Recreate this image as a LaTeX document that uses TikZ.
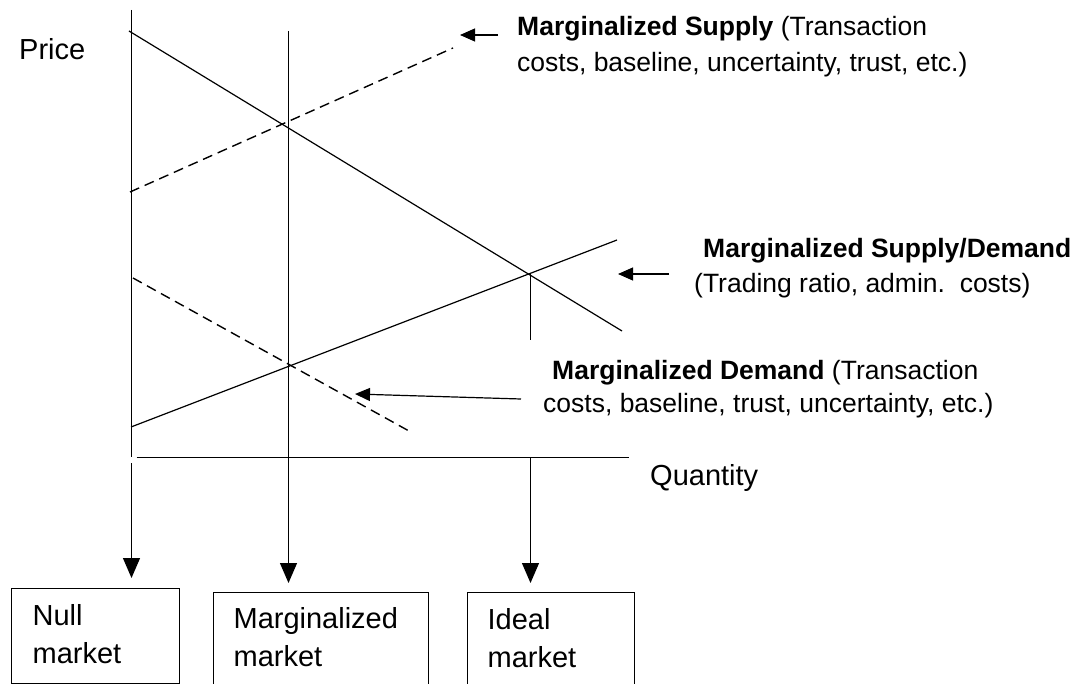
\documentclass[tikz,border=0pt]{standalone}
\usepackage{fontspec}
\setmainfont{Liberation Sans}
\usetikzlibrary{arrows.meta}
\begin{document}
\begin{tikzpicture}[x=1pt,y=-1pt,
  every node/.style={inner sep=0pt, font=\fontsize{26.5}{32}\selectfont},
  curve/.style={line width=1.2pt},
  dashcurve/.style={line width=1.4pt, dash pattern=on 10pt off 6pt},
  guide/.style={line width=1.2pt},
  bigarrow/.style={line width=1.2pt, -{Triangle[length=20pt,width=17pt]}},
  tagarrow/.style={line width=1.2pt, -{Triangle[length=15pt,width=13pt]}},
  txt/.style={anchor=base west},
  axistxt/.style={anchor=base west, font=\fontsize{29}{34}\selectfont},
  marketbox/.style={draw, line width=1.2pt, anchor=north west, align=left,
    inner xsep=20pt, inner ysep=16pt, font=\fontsize{29}{38}\selectfont}
]
\useasboundingbox (0,0) rectangle (1076,684);
\clip (0,0) rectangle (1076,684);

% axis labels
\node[axistxt] (price) at (19,60) {Price};
\node[axistxt] (qty) at (650,485) {Quantity};

% curve end points
\coordinate (dTop) at (129,31);     \coordinate (dEnd) at (622,331);   % demand
\coordinate (sLow) at (131,427);    \coordinate (sEnd) at (617,240);   % supply
\coordinate (msLow) at (130,192);   \coordinate (msEnd) at (453,48);   % marginalized supply
\coordinate (mdTop) at (133,278);   \coordinate (mdEnd) at (409,431);  % marginalized demand

% vertical guides and quantity axis
\coordinate (nullTop) at (131.5,10);
\coordinate (nullBreak) at (131.5,457);
\coordinate (nullStart) at (131.5,463);
\coordinate (margTop) at (288.5,31);
\coordinate (idealCross) at (530.5,273);
\coordinate (idealLow) at (530.5,340);
\coordinate (idealStart) at (530.5,457.5);
\coordinate (qStart) at (136.5,457.5);
\coordinate (qEnd) at (629,457.5);

\draw[guide] (nullTop) -- (nullBreak);
\draw[guide] (qStart) -- (qEnd);
\draw[guide] (idealCross) -- (idealLow);

% supply and demand curves
\draw[curve] (dTop) -- (dEnd);
\draw[curve] (sLow) -- (sEnd);
\draw[dashcurve] (msLow) -- (msEnd);
\draw[dashcurve] (mdTop) -- (mdEnd);

% labels of the curves
\node[txt] (supA) at (517,36) {\textbf{Marginalized Supply} (Transaction};
\node[txt] (supB) at (517,72) {costs, baseline, uncertainty, trust, etc.)};
\node[txt] (sdA) at (703,258) {\textbf{Marginalized Supply/Demand}};
\node[txt] (sdB) at (694,293) {(Trading ratio, admin.\ \ costs)};
\node[txt] (demA) at (552,380) {\textbf{Marginalized Demand} (Transaction};
\node[txt] (demB) at (543,413) {costs, baseline, trust, uncertainty, etc.)};

\coordinate (supTail) at (498,35);  \coordinate (supTip) at (460,35);
\coordinate (sdTail) at (669,274);  \coordinate (sdTip) at (618,274);
\coordinate (demTail) at (521,399); \coordinate (demTip) at (355,394);
\draw[tagarrow] (supTail) -- (supTip);
\draw[tagarrow] (sdTail) -- (sdTip);
\draw[tagarrow] (demTail) -- (demTip);

% market outcomes
\node[marketbox, text width=126pt, inner xsep=21pt] (null) at (11,588) {Null\\market\rule[-4pt]{0pt}{0pt}};
\node[marketbox, text width=175pt, inner ysep=15pt] (marg) at (213,592) {Marginalized\\market\rule[-20pt]{0pt}{0pt}};
\node[marketbox, text width=127pt] (ideal) at (467,592) {Ideal\\market\rule[-20pt]{0pt}{0pt}};

\draw[bigarrow, shorten >=10pt] (nullStart) -- (nullStart |- null.north);
\draw[bigarrow, shorten >=9pt] (margTop) -- (margTop |- marg.north);
\draw[bigarrow, shorten >=9pt] (idealStart) -- (idealStart |- ideal.north);
\end{tikzpicture}
\end{document}
